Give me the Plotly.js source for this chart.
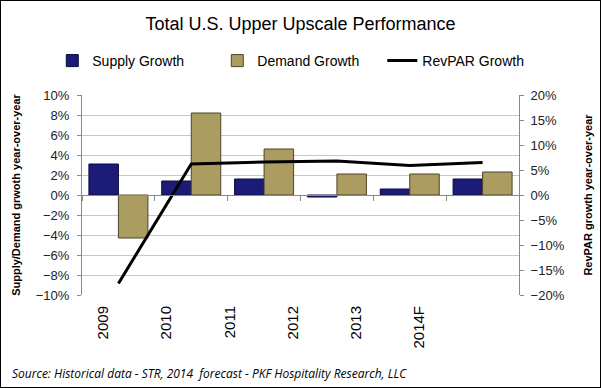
<!DOCTYPE html>
<html>
<head>
<meta charset="utf-8">
<script src="https://cdn.plot.ly/plotly-3.0.1.min.js"></script>
<style>
  html, body { margin: 0; padding: 0; background: #fff; }
  #wrap { position: relative; width: 601px; height: 388px; }
  #chart { width: 601px; height: 388px; }
  #frame { position: absolute; left: 0; top: 0; width: 601px; height: 388px; box-sizing: border-box; border: 1px solid #000; pointer-events: none; }
</style>
</head>
<body>
<div id="wrap"><div id="chart"></div><div id="frame"></div></div>
<script>
const years = ["2009", "2010", "2011", "2012", "2013", "2014F"];
const supplyGrowth = [3.1, 1.4, 1.6, -0.2, 0.6, 1.6];
const demandGrowth = [-4.3, 8.2, 4.6, 2.1, 2.1, 2.3];
const revparGrowth = [-17.7, 6.2, 6.6, 6.8, 5.9, 6.5];
const labelIndex = [0, 1, 2, 3, 4, 5];

const font = "Liberation Sans, Arial, sans-serif";

const traces = [
  {
    type: "bar", name: "Supply Growth", x: years, y: supplyGrowth,
    marker: { color: "#1c1c78", line: { color: "#0a0a3a", width: 1 } },
    xaxis: "x", yaxis: "y"
  },
  {
    type: "bar", name: "Demand Growth", x: years, y: demandGrowth,
    marker: { color: "#ab9d62", line: { color: "#4d4428", width: 1 } },
    xaxis: "x", yaxis: "y"
  },
  {
    type: "scatter", mode: "lines", name: "RevPAR Growth", x: years, y: revparGrowth,
    line: { color: "#000", width: 3 },
    xaxis: "x", yaxis: "y2"
  },
  {
    // label-only helper for the category axis text (no visible marks)
    type: "scatter", mode: "markers", x: labelIndex, y: labelIndex.map(() => null),
    marker: { opacity: 0 }, showlegend: false, hoverinfo: "skip",
    xaxis: "x2", yaxis: "y"
  }
];

const layout = {
  width: 601, height: 388,
  margin: { l: 82, r: 82, t: 95, b: 93 },
  paper_bgcolor: "#fff", plot_bgcolor: "#fff",
  font: { family: font, color: "#000", size: 12 },
  title: {
    text: "Total U.S. Upper Upscale Performance",
    font: { family: font, size: 18, color: "#000" },
    x: 0.5, xanchor: "center", y: 0.94, yanchor: "middle", yref: "container"
  },
  barmode: "group", bargap: 0.19, bargroupgap: 0,
  showlegend: true,
  legend: {
    orientation: "h", x: -0.068, xanchor: "left", y: 1.17, yanchor: "middle",
    entrywidth: 120, entrywidthmode: "pixels",
    font: { family: font, size: 14, color: "#000" }, traceorder: "normal",
    bgcolor: "rgba(0,0,0,0)"
  },
  xaxis: {
    type: "category", categoryorder: "array", categoryarray: years,
    anchor: "free", position: 0.5,
    showline: true, linecolor: "#888", linewidth: 1,
    ticks: "outside", tickson: "boundaries", ticklen: 5, tickcolor: "#888",
    showticklabels: false, showgrid: false, zeroline: false
  },
  xaxis2: {
    type: "linear", overlaying: "x", anchor: "y", side: "bottom",
    range: [-0.332, 6.57], tickmode: "array", tickvals: labelIndex, ticktext: years,
    tickangle: -90, showgrid: false, showline: false, zeroline: false, ticks: "",
    ticklabelstandoff: 7,
    tickfont: { family: font, size: 15, color: "#000" }
  },
  yaxis: {
    range: [-10, 10], dtick: 2, ticksuffix: "%",
    showgrid: true, gridcolor: "#c8c8c8", gridwidth: 1,
    zeroline: true, zerolinecolor: "#888", zerolinewidth: 1,
    showline: true, linecolor: "#888", ticks: "outside", ticklen: 4, tickcolor: "#888",
    ticklabelstandoff: 5,
    tickfont: { family: font, size: 13, color: "#222" },
    title: { text: "Supply/Demand grwoth year-over-year", font: { family: font, size: 11, color: "#000", weight: "bold" }, standoff: 12 }
  },
  yaxis2: {
    range: [-20, 20], dtick: 5, ticksuffix: "%", overlaying: "y", side: "right",
    showgrid: false, zeroline: false,
    showline: true, linecolor: "#888", ticks: "outside", ticklen: 4, tickcolor: "#888",
    ticklabelstandoff: 4,
    tickfont: { family: font, size: 13, color: "#222" },
    title: { text: "RevPAR growth year-over-year", font: { family: font, size: 11, color: "#000", weight: "bold" }, standoff: 20 }
  },
  annotations: [
    {
      text: "Source: Historical data - STR, 2014  forecast - PKF Hospitality Research, LLC",
      xref: "paper", yref: "paper", x: -0.165, y: -0.39, xanchor: "left", yanchor: "middle",
      showarrow: false, font: { family: "Open Sans, sans-serif", size: 12, color: "#000", style: "italic" }
    }
  ]
};

Plotly.newPlot("chart", traces, layout, { staticPlot: true, displayModeBar: false });
</script>
</body>
</html>
